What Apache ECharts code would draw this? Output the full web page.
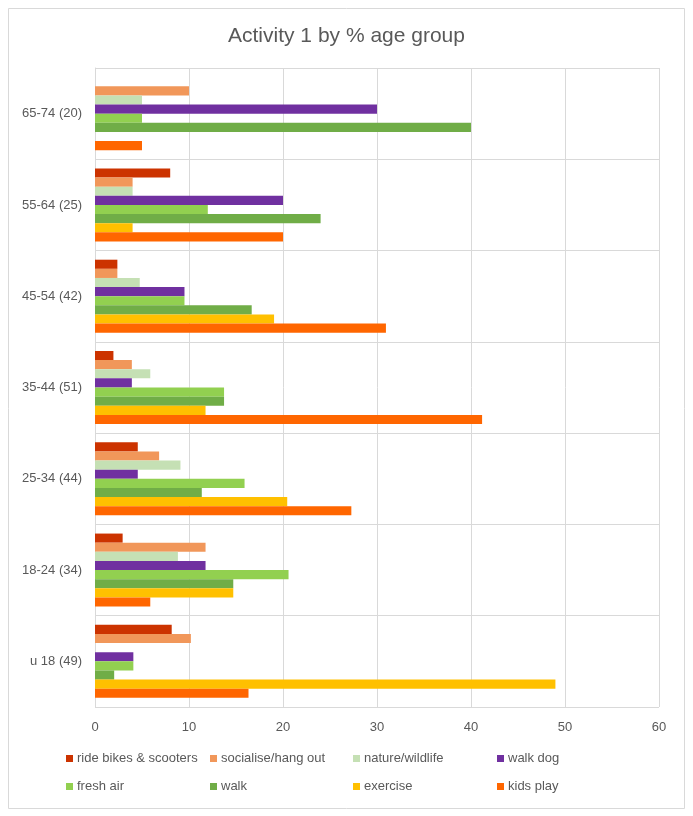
<!DOCTYPE html>
<html><head><meta charset="utf-8">
<script src="https://cdn.jsdelivr.net/npm/echarts@6/dist/echarts.min.js"></script>
<style>html,body{margin:0;padding:0;background:#fff}#c{width:693px;height:816px}</style>
</head><body><div id="c"></div>
<script>
const categories = ['65-74 (20)', '55-64 (25)', '45-54 (42)', '35-44 (51)', '25-34 (44)', '18-24 (34)', 'u 18 (49)'];
const seriesNames = ['ride bikes & scooters', 'socialise/hang out', 'nature/wildlife', 'walk dog', 'fresh air', 'walk', 'exercise', 'kids play'];
const rideBikes  = [0, 8, 2.38, 1.96, 4.55, 2.94, 8.16];
const socialise  = [10, 4, 2.38, 3.92, 6.82, 11.76, 10.2];
const nature     = [5, 4, 4.76, 5.88, 9.09, 8.82, 0];
const walkDog    = [30, 20, 9.52, 3.92, 4.55, 11.76, 4.08];
const freshAir   = [5, 12, 9.52, 13.73, 15.91, 20.59, 4.08];
const walk       = [40, 24, 16.67, 13.73, 11.36, 14.71, 2.04];
const exercise   = [0, 4, 19.05, 11.76, 20.45, 14.71, 48.98];
const kidsPlay   = [5, 20, 30.95, 41.18, 27.27, 5.88, 16.33];
const xTicks = [0, 10, 20, 30, 40, 50, 60];

const values = [rideBikes, socialise, nature, walkDog, freshAir, walk, exercise, kidsPlay];
const colors = ['#CC3300', '#F1975A', '#C5E0B4', '#7030A0', '#92D050', '#70AD47', '#FFC000', '#FF6600'];
const font = 'Liberation Sans';
const txt = '#595959';

const legendPos = [[66, 751], [210, 751], [353, 751], [497, 751], [66, 779], [210, 779], [353, 779], [497, 779]];
const legends = seriesNames.map((n, i) => ({
  data: [n], left: legendPos[i][0], top: legendPos[i][1] + 1,
  icon: 'rect', itemWidth: 7, itemHeight: 7, itemGap: 4, padding: 0,
  textStyle: { color: txt, fontSize: 13, fontFamily: font, padding: [0, 0, 0, -1] }
}));

const chart = echarts.init(document.getElementById('c'));
chart.setOption({
  backgroundColor: '#fff',
  animation: false,
  color: colors,
  title: {
    text: 'Activity 1 by % age group', left: 'center', top: 21,
    textStyle: { color: txt, fontSize: 21, fontWeight: 'normal', fontFamily: font }
  },
  legend: legends,
  grid: { left: 95, right: 34, top: 68, bottom: 109, containLabel: false },
  xAxis: {
    type: 'value', min: xTicks[0], max: xTicks[xTicks.length - 1], interval: 10,
    axisLine: { show: false }, axisTick: { show: false },
    axisLabel: { color: txt, fontSize: 13, fontFamily: font, margin: 14 },
    splitLine: { show: true, lineStyle: { color: '#d9d9d9', width: 1 } }
  },
  yAxis: {
    type: 'category', data: categories, inverse: true,
    axisLine: { show: true, lineStyle: { color: '#d9d9d9' } },
    axisTick: { show: false },
    axisLabel: { color: txt, fontSize: 13, fontFamily: font, margin: 13 },
    splitLine: { show: true, lineStyle: { color: '#d9d9d9', width: 1 } }
  },
  series: seriesNames.map((n, i) => ({
    name: n, type: 'bar', data: values[i],
    barGap: '0%', barCategoryGap: '20%'
  })),
  graphic: [{
    type: 'rect', shape: { x: 8.5, y: 8.5, width: 676, height: 800 },
    style: { fill: 'none', stroke: '#d9d9d9', lineWidth: 1 }, silent: true
  }]
});
</script></body></html>
